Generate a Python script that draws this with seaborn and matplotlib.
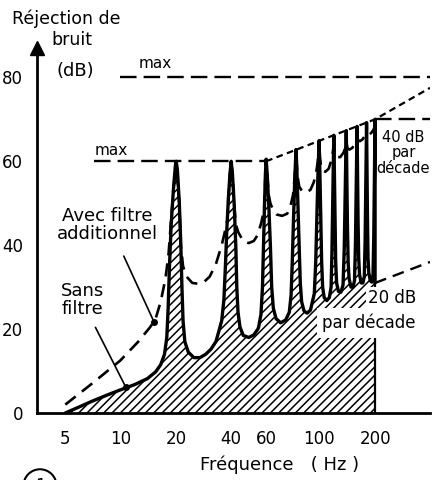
import numpy as np
import matplotlib
matplotlib.use("Agg")
import matplotlib.pyplot as plt
import seaborn as sns

# ---------------- data ----------------
sans_freq = [5, 6, 7, 8.5, 10, 12, 14, 15.5, 16.5, 17.3, 17.8, 18.1, 18.4, 18.8, 19.3, 19.8, 20,
             20.3, 20.8, 21.2, 21.5, 21.8, 22.3, 23.3, 25, 27, 29, 31, 33,
             34, 35.5, 36.5, 37.2, 37.8, 38.6, 39.4, 40,
             40.6, 41.4, 42.2, 42.7, 43.3, 44.3, 46, 49, 52, 54.5,
             55, 56.5, 57.5, 58.2, 58.9, 59.5, 60,
             60.6, 61.5, 62.5, 63.3, 64.3, 66, 69, 72.5,
             75, 76.3, 77.2, 78, 78.9, 79.5, 80,
             80.6, 81.5, 82.5, 83.4, 84.5, 86.5, 89, 92,
             95.5, 96.8, 97.8, 98.8, 100,
             101, 102.2, 103.2, 104.5, 106.5, 110, 113.5,
             116, 117.2, 118.3, 119.3, 120,
             120.8, 121.8, 122.8, 124.2, 127, 131,
             134.5, 136.5, 138, 139.3, 140,
             140.8, 142, 143.3, 145, 148.5, 152,
             155, 156.8, 158.3, 159.4, 160,
             160.8, 162, 163.3, 165, 168.5, 172,
             175, 176.8, 178.3, 179.4, 180,
             180.8, 182, 183.3, 185, 188.5, 192,
             195, 196.8, 198.3, 199.4, 200, 200]
sans_db = [0, 1.5, 2.8, 4.3, 5.5, 6.8, 8.2, 9.8, 11.5, 14, 18, 25, 35, 45, 53, 59, 60,
           58, 50, 40, 30, 22, 17, 14.5, 13.2, 13.2, 14, 15.2, 17,
           19, 22, 27, 35, 43, 51, 57, 60,
           57, 50, 40, 30, 24, 20.5, 18.5, 18, 18.6, 20,
           20.5, 23.5, 30, 40, 50, 57, 60.5,
           57, 50, 40, 30, 25, 22.5, 21.5, 22.2,
           24, 28, 36, 45, 54, 59, 62.8,
           59, 50, 40, 31, 26.5, 24.3, 23.8, 24.5,
           28.5, 36, 46, 56, 64.9,
           57, 46, 36, 30, 27.5, 26.8, 27.5,
           30, 38, 50, 60, 66.2,
           58, 46, 36, 31, 29, 28.8,
           30.5, 39, 52, 62, 67.3,
           58, 45, 36, 32, 30, 30,
           31.5, 40, 53, 63, 68.3,
           60, 46, 37, 33, 31, 31,
           32.5, 41, 54, 64, 69.2,
           60, 47, 37, 33.5, 31.5, 31.2,
           33, 42, 55, 65, 70, 31]

avec_freq = [5, 7, 10, 12.5, 14.5, 15.5, 16.5, 17.5, 18.2, 18.7, 19.3, 20,
             20.8, 21.2, 21.8, 22.8, 24.5, 26.5, 28.5, 30.5, 33, 35.5, 37.3, 38.1, 38.6, 39.4, 40,
             40.6, 41.4, 42.2, 43.5, 46, 49, 52, 54.5, 56.8, 58.3, 58.9, 59.5, 60,
             60.6, 61.5, 62.5, 64, 66.5, 70, 73.5, 76, 77.8, 78.4, 78.9, 79.5, 80,
             80.6, 81.5, 82.5, 85, 88.5, 92, 95, 97.3, 98.8, 100,
             101, 102.2, 104, 108, 112.5, 116, 118, 119.3, 120,
             120.8, 122, 125, 130, 135, 138, 139.3, 140,
             140.8, 142.5, 146, 151, 156, 158.3, 159.4, 160,
             160.8, 162.5, 166, 171, 176, 178.3, 179.4, 180,
             180.8, 182.5, 186, 191, 196, 198.3, 199.4, 200]
avec_db = [2, 7, 12.5, 17, 20.5, 22.5, 26.5, 32, 38, 45, 53, 60,
           50, 40, 35, 32.5, 31, 30.8, 31.3, 32.5, 35.5, 40, 44, 46, 51, 57, 60,
           57, 50, 45, 43, 41, 40.5, 41, 42.5, 45.5, 48, 50, 57, 60.5,
           57, 52, 50, 48.5, 47.3, 47, 47.5, 49.5, 52, 54, 56, 59, 62.8,
           59, 56, 54, 52.8, 52.6, 53.2, 55, 57.5, 60, 64.9,
           61, 59, 57.8, 57.5, 58.2, 60, 61.5, 63, 66.2,
           63, 61.8, 61, 61, 62, 63, 64, 67.3,
           64, 63, 62.8, 63.2, 64.3, 65, 66, 68.3,
           65.5, 65, 64.8, 65.2, 66, 66.8, 67.5, 69.2,
           67, 66.5, 66.3, 66.8, 67.5, 68, 68.8, 70]

max80_freq = [10, 395]
max80_db = [80, 80]
max60_freq = [7.2, 60]
max60_db = [60, 60]
env40_freq = [60, 200, 395]          # 40 dB / decade envelope
env40_db = [60, 70, 77.5]
cap70_freq = [200, 395]
cap70_db = [70, 70]
slope20_freq = [200, 395]            # 20 dB / decade
slope20_db = [31, 36]

x_tick_values = [5, 10, 20, 40, 60, 100, 200]
x_tick_labels = ["5", "10", "20", "40", "60", "100", "200"]
x_minor_ticks = [80, 395]
y_tick_values = [0, 20, 40, 60, 80]
y_tick_labels = ["0", "20", "40", "60", "80"]
y_minor_ticks = [10, 30, 50, 70]

# ---------------- hand-drawn frequency scale ----------------
_anchor_hz = np.log10([1, 5, 10, 20, 40, 60, 100, 200, 1000])
_anchor_pos = np.array([-61.7, 66, 121, 177, 232, 267, 320, 376, 506])

def _fwd(f):
    f = np.asarray(f, dtype=float)
    return np.interp(np.log10(np.clip(f, 1e-6, None)), _anchor_hz, _anchor_pos)

def _inv(p):
    return 10 ** np.interp(np.asarray(p, dtype=float), _anchor_pos, _anchor_hz)

# ---------------- style ----------------
sns.set_style("white")
plt.rcParams["font.family"] = ["DejaVu Sans"]
plt.rcParams["hatch.linewidth"] = 1.1
for k in ("text.color", "axes.labelcolor", "xtick.color", "ytick.color"):
    plt.rcParams[k] = "black"

fig = plt.figure(figsize=(4.34, 4.8), dpi=100)
ax = fig.add_axes([37 / 434, 67 / 480, 393 / 434, 365 / 480])
ax.set_xscale("function", functions=(_fwd, _inv))
ax.set_xlim(3.5, 395)
ax.set_ylim(0, 87)

# hatched region below the "sans filtre" curve
ax.fill_between(sans_freq, 0, sans_db, facecolor="white", edgecolor="black",
                hatch="////", linewidth=0, zorder=1)
ax.plot([200, 200], [0, 31], color="black", lw=1.6, zorder=2)

# curves
sns.lineplot(x=sans_freq, y=sans_db, ax=ax, estimator=None, sort=False,
             color="black", lw=2.4, zorder=4)
sns.lineplot(x=avec_freq, y=avec_db, ax=ax, estimator=None, sort=False,
             color="black", lw=1.9, linestyle=(0, (5, 3)), zorder=4)

# reference lines
ax.plot(max80_freq, max80_db, color="black", lw=1.7, linestyle=(0, (7, 3)), zorder=3)
ax.plot(max60_freq, max60_db, color="black", lw=1.7, linestyle=(0, (7, 3)), zorder=3)
ax.plot(env40_freq, env40_db, color="black", lw=1.6, linestyle=(0, (3, 2)), zorder=3)
ax.plot(cap70_freq, cap70_db, color="black", lw=1.7, linestyle=(0, (7, 3)), zorder=3)
ax.plot(slope20_freq, slope20_db, color="black", lw=1.7, linestyle=(0, (5, 3)), zorder=3)

# axes cosmetics
for s in ("top", "right"):
    ax.spines[s].set_visible(False)
for s in ("left", "bottom"):
    ax.spines[s].set_linewidth(2.0)
    ax.spines[s].set_color("black")
ax.set_xticks(x_tick_values, x_tick_labels)
ax.set_xticks(x_minor_ticks, minor=True)
ax.set_yticks(y_tick_values, y_tick_labels)
ax.set_yticks(y_minor_ticks, minor=True)
ax.tick_params(axis="both", which="both", direction="in", color="black", width=1.6)
ax.tick_params(axis="y", which="both", length=8, pad=10, labelsize=12)
ax.tick_params(axis="x", which="both", length=6, pad=12, labelsize=12)
ax.plot([0], [1], marker="^", color="black", markersize=10,
        transform=ax.transAxes, clip_on=False, zorder=6)

# annotations
ax.text(15.5, 83.3, "max", ha="center", va="center", fontsize=11)
ax.text(8.9, 62.6, "max", ha="center", va="center", fontsize=11)
ax.text(8.5, 44.8, "Avec filtre\nadditionnel", ha="center", va="center",
        fontsize=13, linespacing=1.0)
ax.annotate("", xy=(15.2, 21.7), xytext=(10.3, 38),
            arrowprops=dict(arrowstyle="-", color="black", lw=1.2))
ax.plot([15.2], [21.7], "o", color="black", ms=4, zorder=5)
ax.text(6.2, 27, "Sans\nfiltre", ha="center", va="center", fontsize=13, linespacing=1.0)
ax.annotate("", xy=(10.7, 6.2), xytext=(7.2, 21),
            arrowprops=dict(arrowstyle="-", color="black", lw=1.2))
ax.plot([10.7], [6.2], "o", color="black", ms=4, zorder=5)
ax.text(284, 62, "40 dB\npar\ndécade", ha="center", va="center", fontsize=10.5,
        linespacing=1.05, zorder=5)
ax.text(246, 27.5, "20 dB", ha="center", va="center", fontsize=12, zorder=5,
        bbox=dict(boxstyle="square,pad=0.1", fc="white", ec="none"))
ax.text(186, 21.5, "par décade", ha="center", va="center", fontsize=12, zorder=5,
        bbox=dict(boxstyle="square,pad=0.35", fc="white", ec="none"))

fig.text(66 / 434, 1 - 19 / 480, "Réjection de", ha="center", va="center", fontsize=12.5)
fig.text(72 / 434, 1 - 40 / 480, "bruit", ha="center", va="center", fontsize=12.5)
fig.text(75 / 434, 1 - 71 / 480, "(dB)", ha="center", va="center", fontsize=13)
fig.text(280 / 434, 1 - 465 / 480, "Fréquence   ( Hz )", ha="center", va="center",
         fontsize=13)
fig.text(40 / 434, -0.012, "1", ha="center", va="center", fontsize=12,
         bbox=dict(boxstyle="circle,pad=0.45", fc="none", ec="black", lw=1.5))

fig.savefig("out.png", dpi=100)
